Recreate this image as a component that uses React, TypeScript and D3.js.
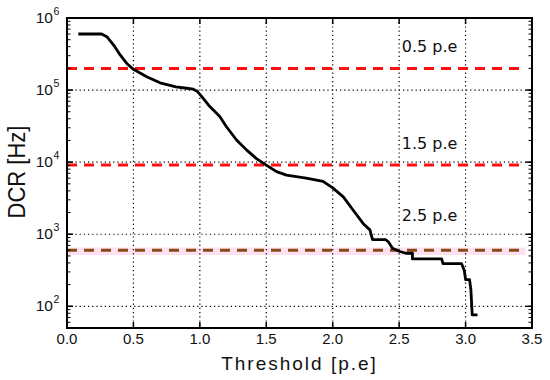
import React from "react";
import * as d3 from "d3";

const thresholds = [0.085, 0.26, 0.30, 0.33, 0.36, 0.40, 0.45, 0.50, 0.60, 0.70, 0.82, 0.90, 0.95, 0.98, 1.01, 1.075, 1.15, 1.2, 1.276, 1.351, 1.426, 1.50, 1.577, 1.652, 1.80, 1.927, 2.0, 2.08, 2.15, 2.23, 2.28, 2.30, 2.40, 2.42, 2.45, 2.50, 2.55, 2.60, 2.60, 2.82, 2.83, 2.97, 2.99, 3.0, 3.03, 3.04, 3.05, 3.09];
const dcr = [6.0e5, 6.0e5, 5.5e5, 4.7e5, 4.0e5, 3.07e5, 2.34e5, 1.94e5, 1.53e5, 1.26e5, 1.11e5, 1.06e5, 1.03e5, 9.6e4, 8.3e4, 5.9e4, 4.3e4, 3.1e4, 2.03e4, 1.48e4, 1.12e4, 9.1e3, 7.4e3, 6.6e3, 6.0e3, 5.4e3, 4.4e3, 3.3e3, 2.2e3, 1.4e3, 1.15e3, 840, 840, 780, 640, 580, 545, 545, 455, 455, 390, 390, 316, 235, 235, 170, 76, 76];

const levelValues = [2.0e5, 9.1e3, 600];
const levelLabels = ["0.5 p.e", "1.5 p.e", "2.5 p.e"];
const levelColors = ["#ff1010", "#ff1010", "#8b4a14"];
const bandRange = [515, 655];

const xTicks = [0, 0.5, 1.0, 1.5, 2.0, 2.5, 3.0, 3.5];
const yExponents = [2, 3, 4, 5, 6];

const W = 550, H = 380;
const M = { left: 67, top: 18, right: 532, bottom: 328 };

export default function App() {
  const x = d3.scaleLinear().domain([0, 3.5]).range([M.left, M.right]);
  const y = d3.scaleLog().domain([50, 1e6]).range([M.bottom, M.top]);

  const line = d3.line<number>()
    .x((_, i) => x(thresholds[i]))
    .y((d) => y(d));

  const minor: number[] = [];
  for (let e = 1; e < 6; e++) {
    for (let k = 1; k <= 9; k++) {
      const v = k * Math.pow(10, e);
      if (v >= 50 && v <= 1e6) minor.push(v);
    }
  }
  const majorY = yExponents.map((e) => Math.pow(10, e));
  const font = "'Liberation Sans', Arial, sans-serif";

  return (
    <svg width={W} height={H} style={{ display: "block", position: "absolute", left: 0, top: 0 }}>
      <rect width={W} height={H} fill="#fff" />
      <rect x={x(0)} width={x(3.45) - x(0)} y={y(bandRange[1])} height={y(bandRange[0]) - y(bandRange[1])} fill="#fde1f1" />
      {xTicks.slice(1, -1).map((t) => (
        <line key={"gx" + t} x1={x(t)} x2={x(t)} y1={M.top} y2={M.bottom} stroke="#000" strokeWidth={1.2} strokeDasharray="1.2,3" />
      ))}
      {majorY.slice(0, -1).map((v) => (
        <line key={"gy" + v} x1={M.left} x2={M.right} y1={y(v)} y2={y(v)} stroke="#000" strokeWidth={1.2} strokeDasharray="1.2,3" />
      ))}
      {levelValues.map((v, i) => (
        <line key={"lv" + i} x1={x(0)} x2={x(3.45)} y1={y(v)} y2={y(v)} stroke={levelColors[i]} strokeWidth={3} strokeDasharray="10,7" />
      ))}
      <path d={line(dcr) || ""} fill="none" stroke="#000" strokeWidth={2.8} strokeLinejoin="round" />
      {levelValues.map((v, i) => (
        <text key={"lt" + i} x={x(2.52)} y={y(v) - (i === 2 ? 29 : 16)} fontFamily="'DejaVu Sans', sans-serif" fontSize={16} fill="#111">{levelLabels[i]}</text>
      ))}
      <rect x={M.left} y={M.top} width={M.right - M.left} height={M.bottom - M.top} fill="none" stroke="#000" strokeWidth={2} />
      {xTicks.map((t) => (
        <g key={"xt" + t}>
          <line x1={x(t)} x2={x(t)} y1={M.bottom} y2={M.bottom - 6} stroke="#000" strokeWidth={1.5} />
          <line x1={x(t)} x2={x(t)} y1={M.top} y2={M.top + 6} stroke="#000" strokeWidth={1.5} />
          <text x={x(t)} y={344} textAnchor="middle" fontFamily={font} fontSize={15} fill="#111">{t.toFixed(1)}</text>
        </g>
      ))}
      {minor.map((v) => (
        <g key={"ym" + v}>
          <line x1={M.left} x2={M.left + 3.5} y1={y(v)} y2={y(v)} stroke="#000" strokeWidth={1} />
          <line x1={M.right} x2={M.right - 3.5} y1={y(v)} y2={y(v)} stroke="#000" strokeWidth={1} />
        </g>
      ))}
      {majorY.map((v, i) => (
        <g key={"yM" + v}>
          <line x1={M.left} x2={M.left + 6} y1={y(v)} y2={y(v)} stroke="#000" strokeWidth={1.5} />
          <line x1={M.right} x2={M.right - 6} y1={y(v)} y2={y(v)} stroke="#000" strokeWidth={1.5} />
          <text x={53} y={y(v) + 5} textAnchor="end" fontFamily={font} fontSize={15.5} fill="#111">10</text>
          <text x={53.5} y={y(v) - 3} fontFamily={font} fontSize={10.5} fill="#111">{yExponents[i]}</text>
        </g>
      ))}
      <text x={(M.left + M.right) / 2} y={370} textAnchor="middle" fontFamily={font} fontSize={19} letterSpacing={2} fill="#111">Threshold [p.e]</text>
      <text transform={`translate(25,172) rotate(-90) scale(1,1.1)`} textAnchor="middle" fontFamily={font} fontSize={22} fill="#111">DCR [Hz]</text>
    </svg>
  );
}
